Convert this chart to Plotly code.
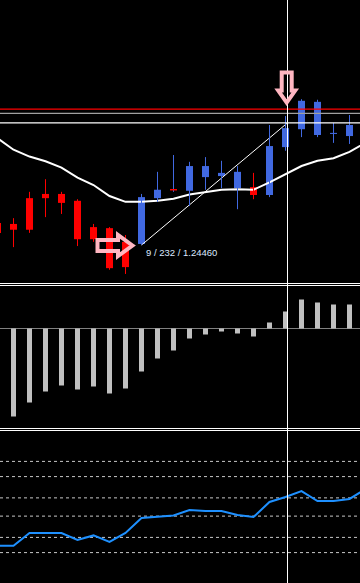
import plotly.graph_objects as go

# ---------------- data ----------------
bar_idx = list(range(-1, 22))
opens = [1.24502, 1.24500, 1.24549, 1.24557, 1.24557, 1.24544, 1.24494, 1.24492, 1.24466, 1.24462,
         1.24549, 1.24565, 1.24563, 1.24589, 1.24591, 1.24568, 1.24570, 1.24555, 1.24646, 1.24680,
         1.24669, 1.24671, 1.24667]
highs = [1.24504, 1.24511, 1.24561, 1.24585, 1.24561, 1.24547, 1.24500, 1.24494, 1.24479, 1.24557,
         1.24599, 1.24631, 1.24618, 1.24627, 1.24620, 1.24610, 1.24597, 1.24688, 1.24705, 1.24737,
         1.24736, 1.24692, 1.24707]
lows = [1.24481, 1.24456, 1.24483, 1.24513, 1.24519, 1.24458, 1.24466, 1.24413, 1.24405, 1.24460,
        1.24542, 1.24561, 1.24534, 1.24565, 1.24568, 1.24528, 1.24547, 1.24551, 1.24639, 1.24665,
        1.24665, 1.24654, 1.24652]
closes = [1.24483, 1.24489, 1.24489, 1.24549, 1.24540, 1.24471, 1.24471, 1.24416, 1.24418, 1.24551,
          1.24565, 1.24565, 1.24610, 1.24610, 1.24597, 1.24599, 1.24555, 1.24648, 1.24682, 1.24734,
          1.24732, 1.24673, 1.24688]

ma_idx = list(range(-1, 23))
ma_vals = [1.24663, 1.24641, 1.24628, 1.24619, 1.24607, 1.24588, 1.24574, 1.24553, 1.24542, 1.24542,
           1.24544, 1.24548, 1.24556, 1.24561, 1.24565, 1.24566, 1.24565, 1.24579, 1.24595, 1.24610,
           1.24620, 1.24625, 1.24637, 1.24654]

hist_idx = list(range(0, 22))
hist_vals = [-0.00088, -0.00074, -0.00063, -0.00057, -0.00061, -0.00058, -0.00065, -0.00060, -0.00043,
             -0.00030, -0.00022, -0.00010, -0.00006, -0.00003, -0.00005, -0.00008, 0.00006, 0.00017,
             0.00029, 0.00026, 0.00024, 0.00024]

osc_idx = list(range(-1, 23))
osc_vals = [24.5, 24.5, 32.9, 32.9, 32.9, 28.3, 31.3, 27.0, 32.9, 42.8, 43.8, 44.4, 48.0, 47.4, 47.4,
            44.7, 43.4, 53.3, 56.6, 60.5, 53.9, 53.9, 55.3, 61.8]
osc_levels = [80, 70, 56, 44, 30, 20]

level_red = 1.24718
level_gray = 1.24710
level_white = 1.24692
trend_from_bar = 8
trend_to_x = 17.125
cursor_x = 17.125
label_text = "9 / 232 / 1.24460"

# ---------------- scales / layout constants ----------------
W, H = 360, 583
X_PX0, X_STEP = 13.5, 16.0                    # pixel of bar 0, pixels per bar
P_REF, Y_REF, P_PER_PX = 1.24460, 245.0, 0.000019
H_ZERO_PX, H_PER_PX = 328.5, 0.00001

def price_at(px):
    return P_REF + (Y_REF - px) * P_PER_PX

def dom(px_top, px_bot):
    return [1 - px_bot / H, 1 - px_top / H]

xr = [(0 - X_PX0) / X_STEP, (W - X_PX0) / X_STEP]

RED = "#FF0000"
BLUE = "#4169E1"
PINK = "#FFB6C1"

fig = go.Figure()

# moving average
fig.add_trace(go.Scatter(x=ma_idx, y=ma_vals, mode="lines",
                         line=dict(color="white", width=2), hoverinfo="skip"))

# trend line
fig.add_trace(go.Scatter(x=[trend_from_bar, trend_to_x],
                         y=[lows[bar_idx.index(trend_from_bar)], level_white],
                         mode="lines", line=dict(color="white", width=1), hoverinfo="skip"))

# wicks
wx = {"up": [], "down": []}
wy = {"up": [], "down": []}
for i, o, h, l, c in zip(bar_idx, opens, highs, lows, closes):
    k = "down" if c < o else "up"
    wx[k] += [i, i, None]
    wy[k] += [l, h, None]
fig.add_trace(go.Scatter(x=wx["up"], y=wy["up"], mode="lines",
                         line=dict(color=BLUE, width=1), hoverinfo="skip"))
fig.add_trace(go.Scatter(x=wx["down"], y=wy["down"], mode="lines",
                         line=dict(color=RED, width=1), hoverinfo="skip"))

# bodies
body_w = 7 / X_STEP
for kind, col in (("up", BLUE), ("down", RED)):
    xs, bs, hs = [], [], []
    for i, o, c in zip(bar_idx, opens, closes):
        if (kind == "up" and c > o) or (kind == "down" and c < o):
            xs.append(i)
            bs.append(min(o, c))
            hs.append(abs(c - o))
    fig.add_trace(go.Bar(x=xs, y=hs, base=bs, width=body_w, marker=dict(color=col, line=dict(width=0)),
                         hoverinfo="skip"))

# doji bodies
dx, dy = [], []
for i, o, c in zip(bar_idx, opens, closes):
    if c == o:
        dx += [i - body_w / 2, i + body_w / 2, None]
        dy += [o, o, None]
fig.add_trace(go.Scatter(x=dx, y=dy, mode="lines", line=dict(color=RED, width=1.5), hoverinfo="skip"))

# histogram
fig.add_trace(go.Bar(x=hist_idx, y=hist_vals, width=5 / X_STEP, xaxis="x", yaxis="y2",
                     marker=dict(color="#C0C0C0", line=dict(width=0)), hoverinfo="skip"))

# oscillator
fig.add_trace(go.Scatter(x=osc_idx, y=osc_vals, xaxis="x", yaxis="y3", mode="lines",
                         line=dict(color="#1E90FF", width=2), hoverinfo="skip"))

shapes = []
# oscillator levels
for lv in osc_levels:
    shapes.append(dict(type="line", xref="x", yref="y3", x0=xr[0], x1=xr[1], y0=lv, y1=lv,
                       line=dict(color="#C8C8C8", width=1, dash="3px,3px"), layer="below"))
# histogram zero line
shapes.append(dict(type="line", xref="x", yref="y2", x0=xr[0], x1=xr[1], y0=0, y1=0,
                   line=dict(color="#808080", width=1), layer="below"))
# price levels
for lv, col, lw in ((level_red, "#FF0000", 1.3), (level_gray, "#A0A0A0", 1.2), (level_white, "white", 1.2)):
    shapes.append(dict(type="line", xref="x", yref="y", x0=xr[0], x1=xr[1], y0=lv, y1=lv,
                       line=dict(color=col, width=lw), layer="above"))
# window separators
for py in (283.5, 285.5, 428.5, 430.5):
    shapes.append(dict(type="line", xref="paper", yref="paper", x0=0, x1=1,
                       y0=1 - py / H, y1=1 - py / H, line=dict(color="white", width=1), layer="above"))
# cursor vertical line
shapes.append(dict(type="line", xref="x", yref="paper", x0=cursor_x, x1=cursor_x, y0=0, y1=1,
                   line=dict(color="white", width=1), layer="above"))


def arrow_path(tip_x, tip_p, direction, head_len, head_half, shaft_half, total_len):
    # pixel offsets relative to the tip, converted with the axis scales
    if direction == "right":
        pts = [(0, 0), (-head_len, -head_half), (-head_len, -shaft_half), (-total_len, -shaft_half),
               (-total_len, shaft_half), (-head_len, shaft_half), (-head_len, head_half)]
    else:  # down
        pts = [(0, 0), (-head_half, -head_len), (-shaft_half, -head_len), (-shaft_half, -total_len),
               (shaft_half, -total_len), (shaft_half, -head_len), (head_half, -head_len)]
    d = ""
    for n, (ox, oy) in enumerate(pts):
        x = tip_x + ox / X_STEP
        y = tip_p - oy * P_PER_PX
        d += ("M" if n == 0 else "L") + f"{x},{y}"
    return d + "Z"


i8 = bar_idx.index(8)
i17 = bar_idx.index(17)
shapes.append(dict(type="path", xref="x", yref="y",
                   path=arrow_path(8 - 9 / X_STEP, lows[i8] - 0.5 * P_PER_PX, "right",
                                   14.5, 10.5, 5.5, 35.0),
                   line=dict(color=PINK, width=4), fillcolor="rgba(0,0,0,0)", layer="above"))
shapes.append(dict(type="path", xref="x", yref="y",
                   path=arrow_path(cursor_x - 0.8 / X_STEP, highs[i17] + 13.5 * P_PER_PX, "down",
                                   12.0, 8.5, 5.0, 30.0),
                   line=dict(color=PINK, width=4), fillcolor="rgba(0,0,0,0)", layer="above"))

fig.update_layout(
    width=W, height=H,
    margin=dict(l=0, r=0, t=0, b=0),
    paper_bgcolor="black", plot_bgcolor="rgba(0,0,0,0)",
    showlegend=False, barmode="overlay", hovermode=False,
    xaxis=dict(range=xr, visible=False, anchor="y3", fixedrange=True),
    yaxis=dict(domain=dom(0, 283), range=[price_at(283), price_at(0)], visible=False,
               anchor="x", fixedrange=True),
    yaxis2=dict(domain=dom(286, 428), range=[(H_ZERO_PX - 428) * H_PER_PX, (H_ZERO_PX - 286) * H_PER_PX],
                visible=False, anchor="x", fixedrange=True),
    yaxis3=dict(domain=dom(431, 583), range=[0, 100], visible=False, anchor="x", fixedrange=True),
    shapes=shapes,
    annotations=[dict(x=8 + 2.5 / X_STEP, y=lows[i8] - 7.5 * P_PER_PX, xref="x", yref="y",
                      text=label_text, showarrow=False, xanchor="left", yanchor="middle",
                      font=dict(family="Liberation Sans", size=9.5, color="#DCE8FF"))],
)

fig.write_html("out.html", config={"displayModeBar": False, "staticPlot": True})
